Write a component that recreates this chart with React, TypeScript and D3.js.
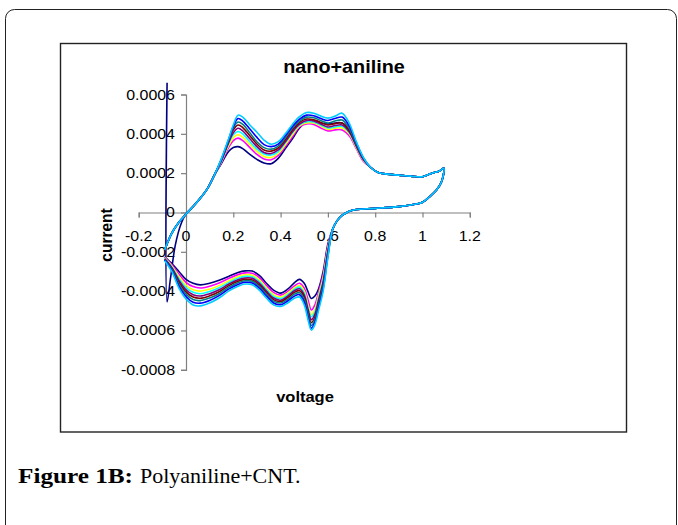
import React, { useRef, useEffect } from "react";
import * as d3 from "d3";

// cyclic voltammogram, 9 cycles; currents are in units of 1e-4 A
const seriesColors = ["#000080", "#FF00FF", "#FFFF00", "#00FFFF", "#800080", "#800000", "#008080", "#0000FF", "#00CCFF"];

const xTicks = [-0.2, 0, 0.2, 0.4, 0.6, 0.8, 1, 1.2];
const xTickLabels = ["-0.2", "0", "0.2", "0.4", "0.6", "0.8", "1", "1.2"];
const yTicks = [0.0006, 0.0004, 0.0002, 0, -0.0002, -0.0004, -0.0006, -0.0008];
const yTickLabels = ["0.0006", "0.0004", "0.0002", "0", "-0.0002", "-0.0004", "-0.0006", "-0.0008"];

// first cycle starts with a spike at the start potential
const navyStartV = [-0.08, -0.08, -0.065, -0.045, -0.02];
const navyStartI = [6.6, -4.55, -3.3, -1.65, -0.55];

// anodic scan, shared start
const anodicStartV = [-0.09, -0.06, -0.03, 0.0, 0.03, 0.06, 0.09, 0.12];
const anodicStartI = [-1.9, -1.05, -0.5, -0.08, 0.3, 0.72, 1.2, 1.9];

// anodic scan, peak region (per cycle)
const anodicMidV = [0.15, 0.18, 0.2, 0.22, 0.24, 0.27, 0.3, 0.33, 0.36, 0.39, 0.42, 0.45, 0.48, 0.51, 0.54, 0.57, 0.6, 0.63, 0.66, 0.69, 0.72, 0.75];
const anodicMid = [
  [2.5, 3.1, 3.3, 3.35, 3.25, 2.95, 2.7, 2.52, 2.48, 2.75, 3.25, 3.75, 4.3, 4.6, 4.65, 4.55, 4.5, 4.55, 4.55, 4.2, 3.4, 2.7],
  [2.55, 3.3, 3.65, 3.78, 3.65, 3.3, 2.95, 2.72, 2.68, 2.9, 3.35, 3.85, 4.35, 4.5, 4.48, 4.3, 4.15, 4.2, 4.2, 3.9, 3.25, 2.6],
  [2.6, 3.4, 3.8, 3.95, 3.82, 3.45, 3.1, 2.85, 2.8, 3.0, 3.45, 3.95, 4.4, 4.55, 4.55, 4.4, 4.22, 4.28, 4.3, 4.0, 3.3, 2.65],
  [2.62, 3.5, 3.95, 4.12, 4.0, 3.6, 3.22, 2.98, 2.92, 3.1, 3.55, 4.05, 4.45, 4.62, 4.6, 4.45, 4.3, 4.35, 4.38, 4.05, 3.35, 2.68],
  [2.65, 3.55, 4.05, 4.28, 4.15, 3.75, 3.35, 3.05, 3.0, 3.18, 3.6, 4.1, 4.5, 4.68, 4.66, 4.5, 4.35, 4.42, 4.45, 4.1, 3.38, 2.7],
  [2.68, 3.6, 4.2, 4.45, 4.32, 3.9, 3.48, 3.18, 3.12, 3.28, 3.7, 4.2, 4.58, 4.75, 4.72, 4.58, 4.45, 4.52, 4.55, 4.18, 3.42, 2.72],
  [2.7, 3.65, 4.3, 4.6, 4.48, 4.05, 3.6, 3.3, 3.22, 3.38, 3.8, 4.3, 4.65, 4.85, 4.82, 4.68, 4.55, 4.65, 4.7, 4.28, 3.48, 2.75],
  [2.72, 3.7, 4.38, 4.78, 4.65, 4.25, 3.82, 3.45, 3.35, 3.48, 3.9, 4.38, 4.75, 4.95, 4.92, 4.78, 4.68, 4.78, 4.85, 4.4, 3.55, 2.78],
  [2.75, 3.75, 4.45, 4.95, 4.85, 4.45, 4.08, 3.68, 3.47, 3.6, 4.0, 4.48, 4.87, 5.08, 5.05, 4.9, 4.8, 4.9, 5.05, 4.55, 3.6, 2.8],
];

// anodic scan, shared end up to the switching potential
const anodicEndV = [0.78, 0.81, 0.85, 0.9, 0.95, 1.0, 1.04, 1.07, 1.09];
const anodicEndI = [2.3, 2.05, 1.95, 1.9, 1.85, 1.82, 2.0, 2.1, 2.25];

// cathodic scan, shared start
const cathodicStartV = [1.08, 1.06, 1.03, 1.0, 0.95, 0.9, 0.8, 0.72, 0.7, 0.68, 0.66, 0.64, 0.62];
const cathodicStartI = [1.55, 1.15, 0.8, 0.52, 0.38, 0.3, 0.21, 0.15, 0.1, 0.0, -0.15, -0.4, -0.85];

// cathodic scan, peak region (per cycle)
const cathodicMidV = [0.6, 0.58, 0.56, 0.545, 0.53, 0.515, 0.5, 0.48, 0.46, 0.43, 0.4, 0.37, 0.34, 0.31, 0.28, 0.25, 0.22, 0.18, 0.14, 0.1, 0.06, 0.03, 0.0, -0.03, -0.06, -0.09];
const cathodicMid = [
  [-1.6, -3.0, -3.9, -4.25, -4.37, -4.0, -3.6, -3.4, -3.55, -3.9, -4.1, -3.95, -3.6, -3.2, -2.98, -2.97, -3.05, -3.25, -3.45, -3.6, -3.68, -3.6, -3.4, -3.0, -2.6, -2.25],
  [-1.7, -3.15, -4.07, -4.7, -4.96, -4.4, -3.85, -3.6, -3.72, -4.02, -4.2, -4.06, -3.71, -3.31, -3.09, -3.07, -3.16, -3.36, -3.59, -3.75, -3.84, -3.77, -3.55, -3.13, -2.66, -2.28],
  [-1.81, -3.3, -4.23, -4.92, -5.2, -4.65, -4.0, -3.72, -3.82, -4.1, -4.3, -4.18, -3.83, -3.43, -3.19, -3.17, -3.26, -3.48, -3.72, -3.9, -4.0, -3.93, -3.7, -3.26, -2.72, -2.31],
  [-1.89, -3.42, -4.36, -5.05, -5.3, -4.78, -4.1, -3.8, -3.9, -4.18, -4.38, -4.27, -3.92, -3.52, -3.27, -3.25, -3.34, -3.57, -3.83, -4.02, -4.13, -4.06, -3.82, -3.36, -2.77, -2.33],
  [-1.97, -3.53, -4.48, -5.18, -5.45, -4.9, -4.2, -3.88, -3.97, -4.25, -4.46, -4.35, -4.0, -3.6, -3.35, -3.33, -3.42, -3.65, -3.93, -4.13, -4.25, -4.18, -3.93, -3.45, -2.81, -2.36],
  [-2.05, -3.64, -4.6, -5.33, -5.6, -5.02, -4.3, -3.98, -4.05, -4.33, -4.53, -4.43, -4.08, -3.68, -3.43, -3.4, -3.5, -3.73, -4.03, -4.24, -4.36, -4.3, -4.04, -3.54, -2.86, -2.38],
  [-2.12, -3.75, -4.73, -5.45, -5.75, -5.13, -4.42, -4.08, -4.14, -4.42, -4.6, -4.51, -4.16, -3.76, -3.5, -3.47, -3.57, -3.81, -4.13, -4.35, -4.48, -4.43, -4.15, -3.64, -2.9, -2.4],
  [-2.21, -3.87, -4.86, -5.58, -5.88, -5.27, -4.56, -4.18, -4.24, -4.5, -4.69, -4.6, -4.25, -3.85, -3.59, -3.55, -3.66, -3.9, -4.23, -4.47, -4.61, -4.56, -4.27, -3.74, -2.95, -2.42],
  [-2.3, -4.0, -5.0, -5.7, -5.98, -5.4, -4.7, -4.3, -4.35, -4.6, -4.78, -4.7, -4.35, -3.95, -3.68, -3.64, -3.75, -4.0, -4.35, -4.6, -4.75, -4.7, -4.4, -3.85, -3.0, -2.45],
];

const W = 678;
const H = 525;
const sx = 1.1; // source picture is slightly stretched horizontally

const App = () => {
  const svgRef = useRef<SVGSVGElement>(null);

  useEffect(() => {
    const svg = d3.select(svgRef.current);
    svg.selectAll("*").remove();

    // outer frame and chart box
    svg.append("rect").attr("x", 5.5).attr("y", 9.5).attr("width", 671).attr("height", 600)
      .attr("rx", 9).attr("fill", "none").attr("stroke", "#222").attr("stroke-width", 1);
    svg.append("rect").attr("x", 60.5).attr("y", 43.5).attr("width", 566).attr("height", 388.5)
      .attr("fill", "#fff").attr("stroke", "#222").attr("stroke-width", 1.4);

    const x = d3.scaleLinear().domain([-0.2, 1.2]).range([138.7, 469.8]);
    const y = d3.scaleLinear().domain([-0.0008, 0.0006]).range([369.8, 94.5]);

    const axisColor = "#808080";

    // x axis through y = 0
    const gx = svg.append("g").attr("transform", `translate(0,${y(0)})`)
      .call(d3.axisBottom(x).tickValues(xTicks).tickSize(5).tickFormat(() => "" as any));
    gx.select(".domain").attr("stroke", axisColor).attr("stroke-width", 1.2);
    gx.selectAll(".tick line").attr("stroke", axisColor).attr("stroke-width", 1.2);

    // y axis through x = 0
    const gy = svg.append("g").attr("transform", `translate(${x(0)},0)`)
      .call(d3.axisLeft(y).tickValues(yTicks).tickSize(5).tickFormat(() => "" as any));
    gy.select(".domain").attr("stroke", axisColor).attr("stroke-width", 1.2);
    gy.selectAll(".tick line").attr("stroke", axisColor).attr("stroke-width", 1.2);

    const font = "Liberation Sans, Arial, sans-serif";

    xTicks.forEach((t, i) => {
      svg.append("text")
        .attr("transform", `translate(${x(t)},${y(0) + 28.5}) scale(${sx},1)`)
        .attr("text-anchor", "middle").attr("font-family", font).attr("font-size", 14.5)
        .attr("fill", "#000").text(xTickLabels[i]);
    });
    yTicks.forEach((t, i) => {
      svg.append("text")
        .attr("transform", `translate(${x(0) - 11},${y(t) + 5}) scale(${sx},1)`)
        .attr("text-anchor", "end").attr("font-family", font).attr("font-size", 14.5)
        .attr("fill", "#000").text(yTickLabels[i]);
    });

    // cycles
    const line = d3.line<[number, number]>()
      .x((d) => x(d[0]))
      .y((d) => y(d[1] * 1e-4))
      .curve(d3.curveCatmullRom.alpha(0.5));

    anodicMid.forEach((mid, k) => {
      const startV = k === 0 ? navyStartV.concat(anodicStartV.slice(3)) : anodicStartV;
      const startI = k === 0 ? navyStartI.concat(anodicStartI.slice(3)) : anodicStartI;
      const vs = [...startV, ...anodicMidV, ...anodicEndV, ...cathodicStartV, ...cathodicMidV];
      const is = [...startI, ...mid, ...anodicEndI, ...cathodicStartI, ...cathodicMid[k]];
      const pts = vs.map((v, j) => [v, is[j]] as [number, number]);
      svg.append("path").attr("d", line(pts)).attr("fill", "none")
        .attr("stroke", seriesColors[k]).attr("stroke-width", 1.6).attr("stroke-linejoin", "round");
    });

    // titles
    svg.append("text")
      .attr("transform", `translate(344,73) scale(${sx},1)`)
      .attr("text-anchor", "middle").attr("font-family", font).attr("font-weight", "bold")
      .attr("font-size", 18).text("nano+aniline");
    svg.append("text")
      .attr("transform", `translate(305,402) scale(${sx},1)`)
      .attr("text-anchor", "middle").attr("font-family", font).attr("font-weight", "bold")
      .attr("font-size", 15).text("voltage");
    svg.append("text")
      .attr("transform", `translate(112,235) scale(${sx},1) rotate(-90)`)
      .attr("text-anchor", "middle").attr("font-family", font).attr("font-weight", "bold")
      .attr("font-size", 15.5).text("current");

    // caption
    const serif = "Liberation Serif, Times New Roman, serif";
    svg.append("text").attr("x", 18).attr("y", 482.5)
      .attr("font-family", serif).attr("font-weight", "bold").attr("font-size", 22)
      .attr("textLength", 115).attr("lengthAdjust", "spacingAndGlyphs").text("Figure 1B:");
    svg.append("text").attr("x", 140).attr("y", 482.5)
      .attr("font-family", serif).attr("font-size", 22).text("Polyaniline+CNT.");
  }, []);

  return (
    <svg
      ref={svgRef}
      width={W}
      height={H}
      style={{ position: "absolute", left: 0, top: 0, background: "#fff" }}
    />
  );
};

export default App;
